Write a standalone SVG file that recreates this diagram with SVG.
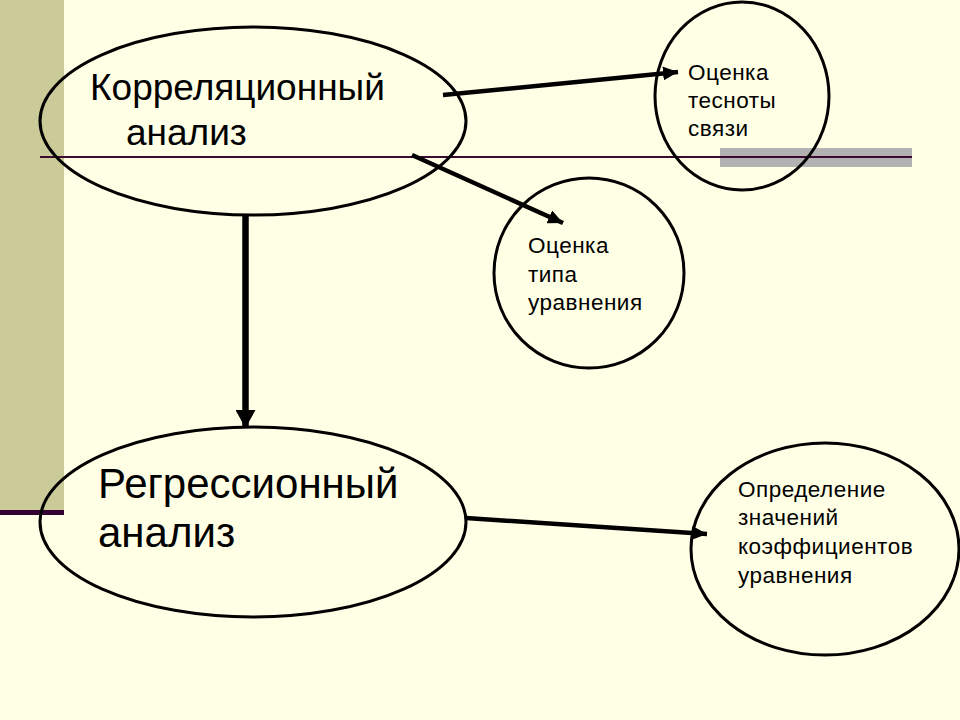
<svg xmlns="http://www.w3.org/2000/svg" width="960" height="720" viewBox="0 0 960 720">
<style>
.node{fill:none;stroke:#000;stroke-width:3}
.conn{stroke:#000;stroke-width:4.5;fill:none}
.thick{stroke-width:6.5}
text{font-family:"Liberation Sans",Arial,sans-serif;fill:#000}
.big{font-size:37px}
.big2{font-size:42px}
.small{font-size:22.5px;letter-spacing:0.5px}
</style>
<defs>
<marker id="ah" markerUnits="userSpaceOnUse" markerWidth="16" markerHeight="14" refX="15" refY="7" orient="auto">
<path d="M0,0 L15,7 L0,14 Z" fill="#000"/>
</marker>
<marker id="ahb" markerUnits="userSpaceOnUse" markerWidth="20" markerHeight="20" refX="18" refY="10" orient="auto">
<path d="M0,0 L18,10 L0,20 Z" fill="#000"/>
</marker>
</defs>
<rect width="960" height="720" fill="#FFFFE5"/>
<rect x="0" y="0" width="64" height="510" fill="#CBCB9A"/>
<rect x="0" y="510" width="64" height="5" fill="#330033"/>
<rect x="720" y="148" width="192" height="19" fill="#B2B2B2"/>
<line x1="40" y1="157" x2="912" y2="157" stroke="#3B0A2E" stroke-width="2"/>
<g id="connectors">
<line class="conn" x1="443" y1="95" x2="678" y2="72" marker-end="url(#ah)"/>
<line class="conn" x1="412" y1="155" x2="563" y2="223" marker-end="url(#ah)"/>
<line class="conn thick" x1="245.5" y1="215" x2="245.5" y2="428" marker-end="url(#ahb)"/>
<line class="conn" x1="466" y1="518" x2="707" y2="534" marker-end="url(#ah)"/>
</g>
<g id="corr">
<ellipse class="node" cx="253" cy="121" rx="213" ry="94"/>
<text class="big" x="90" y="100">Корреляционный</text>
<text class="big" x="126" y="145">анализ</text>
</g>
<g id="regr">
<ellipse class="node" cx="253" cy="522" rx="213" ry="95"/>
<text class="big2" x="98" y="498">Регрессионный</text>
<text class="big2" x="98" y="547">анализ</text>
</g>
<g id="tesnota">
<ellipse class="node" cx="742" cy="96" rx="87" ry="94"/>
<text class="small" x="688" y="80">Оценка</text>
<text class="small" x="688" y="108">тесноты</text>
<text class="small" x="688" y="136">связи</text>
</g>
<g id="tip">
<ellipse class="node" cx="589" cy="273" rx="95" ry="95"/>
<text class="small" x="528" y="253">Оценка</text>
<text class="small" x="528" y="282">типа</text>
<text class="small" x="528" y="310">уравнения</text>
</g>
<g id="koef">
<ellipse class="node" cx="825" cy="549" rx="134" ry="106"/>
<text class="small" x="738" y="497">Определение</text>
<text class="small" x="738" y="525">значений</text>
<text class="small" x="738" y="554">коэффициентов</text>
<text class="small" x="738" y="583">уравнения</text>
</g>
</svg>
